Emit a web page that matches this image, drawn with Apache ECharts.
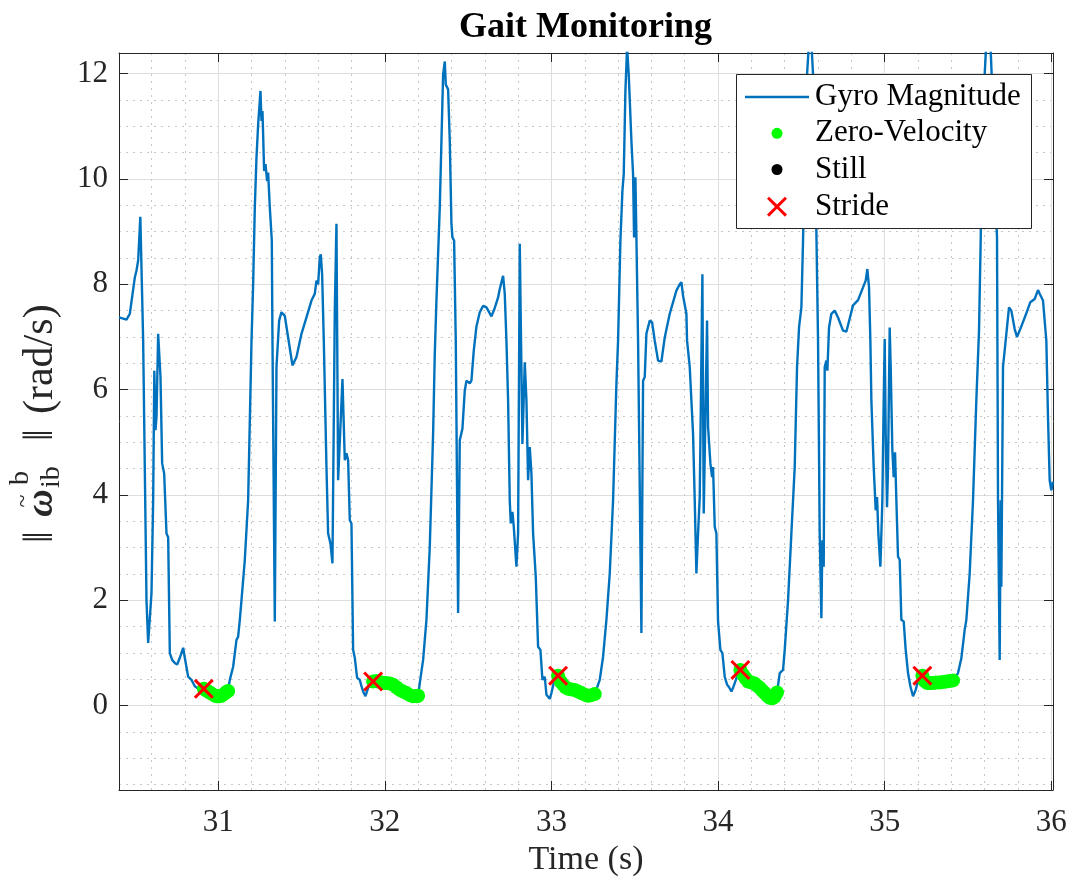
<!DOCTYPE html>
<html><head><meta charset="utf-8">
<script src="https://cdn.jsdelivr.net/npm/echarts@6/dist/echarts.min.js"></script>
<style>html,body{margin:0;padding:0;background:#fff}#c{width:1076px;height:889px}</style>
</head><body><div id="c"></div>
<script>
const gyroTime = [30.405,30.45,30.47,30.50,30.51,30.52,30.533,30.55,30.57,30.58,30.60,30.61,30.617,30.624,30.630,30.640,30.654,30.664,30.676,30.690,30.700,30.710,30.724,30.740,30.754,30.770,30.790,30.800,30.820,30.840,30.860,30.890,30.914,30.96,31.00,31.035,31.058,31.070,31.090,31.110,31.120,31.130,31.140,31.160,31.180,31.200,31.210,31.220,31.230,31.240,31.254,31.260,31.266,31.276,31.284,31.294,31.300,31.310,31.322,31.326,31.340,31.350,31.366,31.380,31.400,31.420,31.446,31.470,31.500,31.530,31.560,31.580,31.590,31.600,31.610,31.616,31.624,31.634,31.650,31.660,31.674,31.686,31.700,31.710,31.720,31.746,31.760,31.770,31.780,31.790,31.800,31.810,31.820,31.834,31.850,31.860,31.870,31.884,31.900,31.920,31.930,31.97,32.01,32.05,32.09,32.13,32.17,32.200,32.210,32.230,32.250,32.270,32.290,32.300,32.310,32.330,32.340,32.350,32.360,32.366,32.380,32.390,32.400,32.406,32.416,32.426,32.440,32.450,32.466,32.480,32.490,32.510,32.520,32.534,32.550,32.570,32.590,32.610,32.640,32.660,32.680,32.690,32.700,32.710,32.720,32.730,32.740,32.750,32.756,32.766,32.774,32.790,32.800,32.810,32.826,32.840,32.850,32.860,32.870,32.880,32.890,32.906,32.920,32.934,32.946,32.960,32.970,32.990,33.000,33.014,33.040,33.07,33.10,33.14,33.18,33.22,33.26,33.290,33.310,33.330,33.350,33.370,33.390,33.400,33.414,33.426,33.434,33.444,33.454,33.464,33.470,33.480,33.490,33.496,33.504,33.510,33.520,33.540,33.550,33.560,33.570,33.590,33.604,33.620,33.640,33.660,33.680,33.710,33.750,33.770,33.780,33.790,33.802,33.810,33.814,33.830,33.850,33.860,33.870,33.880,33.890,33.906,33.914,33.934,33.940,33.954,33.964,33.970,33.980,33.990,34.000,34.014,34.026,34.040,34.054,34.066,34.080,34.090,34.110,34.126,34.134,34.18,34.22,34.25,34.28,34.31,34.334,34.354,34.370,34.390,34.400,34.420,34.440,34.460,34.474,34.486,34.500,34.510,34.520,34.534,34.546,34.560,34.570,34.590,34.600,34.610,34.620,34.626,34.634,34.640,34.650,34.656,34.666,34.680,34.700,34.720,34.750,34.770,34.790,34.810,34.840,34.870,34.886,34.896,34.906,34.914,34.920,34.934,34.946,34.954,34.962,34.974,34.986,34.994,35.000,35.006,35.014,35.020,35.030,35.036,35.046,35.054,35.062,35.070,35.080,35.090,35.100,35.114,35.126,35.140,35.154,35.170,35.186,35.206,35.226,35.29,35.35,35.41,35.440,35.460,35.480,35.490,35.510,35.530,35.550,35.566,35.576,35.586,35.600,35.610,35.634,35.648,35.666,35.674,35.680,35.690,35.696,35.700,35.710,35.720,35.730,35.746,35.760,35.780,35.794,35.820,35.850,35.874,35.900,35.920,35.930,35.950,35.970,35.980,35.990,36.000,36.010];
const gyroValue = [7.37,7.33,7.44,8.13,8.26,8.45,9.28,6.93,2.0,1.19,2.14,3.9,6.36,5.23,5.48,7.06,6.24,4.6,4.41,3.27,3.2,1.0,0.87,0.81,0.78,0.91,1.1,0.91,0.55,0.49,0.37,0.30,0.32,0.23,0.18,0.22,0.27,0.49,0.74,1.25,1.31,1.63,2.0,2.77,3.9,6.9,8.0,9.46,10.4,11.03,11.67,11.1,11.29,10.15,10.28,9.96,10.12,9.46,8.83,6.93,1.6,6.43,7.31,7.47,7.40,6.99,6.46,6.62,7.06,7.37,7.69,7.82,8.07,8.00,8.51,8.57,8.19,6.93,4.53,3.27,3.08,2.70,7.50,9.15,4.28,6.20,4.66,4.79,4.66,3.52,3.46,1.06,0.91,0.53,0.49,0.37,0.27,0.18,0.34,0.42,0.46,0.45,0.43,0.40,0.30,0.24,0.18,0.19,0.43,0.87,1.63,3.02,5.16,6.68,7.69,9.46,10.72,11.98,12.23,11.79,11.70,10.72,9.14,8.89,8.83,6.93,1.76,5.04,5.26,5.98,6.17,6.12,6.17,6.74,7.20,7.47,7.59,7.56,7.39,7.55,7.75,7.91,7.88,8.16,7.82,6.93,5.80,3.90,3.46,3.68,3.40,2.64,3.27,8.77,4.97,6.52,5.80,4.28,4.91,4.41,3.27,2.45,1.12,1.06,0.49,0.55,0.21,0.13,0.24,0.43,0.57,0.40,0.32,0.30,0.24,0.19,0.22,0.49,0.93,1.63,2.51,3.90,6.11,6.93,8.83,9.77,10.09,11.67,12.50,11.98,12.01,10.72,10.09,8.89,10.03,8.89,6.93,1.38,6.17,6.24,7.06,7.31,7.28,6.93,6.55,6.53,6.99,7.44,7.88,8.00,8.04,7.78,7.75,7.44,6.93,6.43,5.16,3.90,2.51,3.27,3.96,8.19,3.65,7.31,5.29,4.60,4.34,4.53,3.40,3.27,1.60,1.06,1.00,0.55,0.40,0.35,0.27,0.34,0.52,0.65,0.68,0.46,0.42,0.34,0.24,0.15,0.15,0.25,0.62,0.68,1.06,2.00,3.27,4.53,6.43,7.18,7.56,8.83,10.72,11.98,12.60,12.60,11.98,9.00,6.93,3.27,1.66,3.14,2.64,6.43,6.55,6.36,7.18,7.44,7.50,7.37,7.12,7.10,7.35,7.60,7.70,7.94,8.07,8.29,7.94,6.93,5.80,4.53,3.71,3.96,3.27,2.64,3.90,5.80,6.96,5.16,3.77,4.53,7.18,6.43,4.85,4.34,4.81,3.90,2.83,2.77,1.63,1.60,1.06,0.62,0.37,0.18,0.30,0.55,0.57,0.43,0.45,0.48,0.62,0.90,1.44,1.63,2.51,3.90,5.80,7.12,8.83,10.72,11.98,12.60,12.60,11.50,9.50,8.90,3.90,0.87,3.90,2.26,6.43,6.46,7.06,7.56,7.50,7.15,7.00,7.20,7.45,7.66,7.72,7.89,7.82,7.69,6.93,5.48,4.28,4.09,4.25];

const zvTime = [30.914,30.93,30.945,30.96,30.975,30.99,31.005,31.02,31.035,31.05,31.06,
  31.93,31.95,31.97,31.99,32.01,32.03,32.05,32.07,32.09,32.11,32.13,32.15,32.17,32.19,32.20,
  33.04,33.055,33.07,33.085,33.10,33.12,33.14,33.16,33.18,33.20,33.22,33.24,33.26,
  34.134,34.15,34.165,34.18,34.20,34.22,34.235,34.25,34.265,34.28,34.295,34.31,34.325,34.34,34.354,
  35.226,35.24,35.255,35.27,35.29,35.31,35.33,35.35,35.37,35.39,35.41];
const zvValue = [0.32,0.29,0.26,0.23,0.20,0.18,0.18,0.19,0.22,0.26,0.28,
  0.46,0.47,0.45,0.43,0.43,0.42,0.40,0.35,0.30,0.27,0.24,0.20,0.18,0.18,0.19,
  0.57,0.46,0.40,0.35,0.32,0.31,0.30,0.27,0.24,0.21,0.19,0.20,0.22,
  0.68,0.59,0.52,0.46,0.44,0.42,0.38,0.34,0.29,0.24,0.19,0.15,0.14,0.17,0.25,
  0.57,0.47,0.43,0.43,0.43,0.44,0.44,0.45,0.46,0.47,0.48];
const stillTime = [];
const stillValue = [];
const strideTime = [30.914,31.93,33.04,34.134,35.226];
const strideValue = [0.32,0.46,0.57,0.68,0.57];

const xMajorTicks = [31,32,33,34,35,36];
const xMinorTicks = [30.6,30.8,31.2,31.4,31.6,31.8,32.2,32.4,32.6,32.8,33.2,33.4,33.6,33.8,34.2,34.4,34.6,34.8,35.2,35.4,35.6,35.8];
const yMajorTicks = [0,2,4,6,8,10,12];
const yMinorTicks = [-1.5,-1,-0.5,0.5,1,1.5,2.5,3,3.5,4.5,5,5.5,6.5,7,7.5,8.5,9,9.5,10.5,11,11.5];

const seriesNames = ['Gyro Magnitude', 'Zero-Velocity', 'Still', 'Stride'];
const seriesColors = ['#0072BD', '#00ff00', '#000000', '#ff0000'];

const FONT = "'Liberation Serif','Times New Roman',serif";
const AX = '#262626';
const X_MIN = 30.405, X_MAX = 36.01, Y_MIN = -1.6, Y_MAX = 12.39;
const X_SYMBOL = 'path://M0,2.1L2.1,0L10,7.9L17.9,0L20,2.1L12.1,10L20,17.9L17.9,20L10,12.1L2.1,20L0,17.9L7.9,10Z';

const pairs = (a, b) => a.map((t, i) => [t, b[i]]);
const chart = echarts.init(document.getElementById('c'), null, {renderer: 'canvas'});

const frameLine = {show: true, onZero: false, lineStyle: {color: AX, width: 1}};
const majorTick = (vals) => ({show: true, inside: true, length: 9, customValues: vals, lineStyle: {color: AX, width: 1}});
const noTick = (vals) => ({show: false, customValues: vals});

// legend drawn as a boxed key (icons + real text)
const LG = {x: 736.5, y: 74.5, w: 295, h: 154, iconX: 777, textX: 815, rows: [97, 133.3, 169.5, 206.7]};
const legendText = (i) => ({type: 'text', z: 11, x: LG.textX, y: LG.rows[i],
  style: {text: seriesNames[i], fontSize: 31, fontFamily: FONT, fill: '#000', align: 'left', verticalAlign: 'middle'}});
const legendGraphics = [
  {type: 'rect', z: 10, shape: {x: LG.x, y: LG.y, width: LG.w, height: LG.h},
    style: {fill: '#fff', stroke: AX, lineWidth: 1}},
  {type: 'line', z: 11, shape: {x1: LG.iconX - 32, y1: LG.rows[0], x2: LG.iconX + 32, y2: LG.rows[0]},
    style: {stroke: seriesColors[0], lineWidth: 2.4}},
  {type: 'circle', z: 11, shape: {cx: LG.iconX, cy: LG.rows[1], r: 5.5}, style: {fill: seriesColors[1]}},
  {type: 'circle', z: 11, shape: {cx: LG.iconX, cy: LG.rows[2], r: 5.5}, style: {fill: seriesColors[2]}},
  {type: 'polygon', z: 11, shape: {points: [[-10,-7.9],[-7.9,-10],[0,-2.1],[7.9,-10],[10,-7.9],[2.1,0],[10,7.9],[7.9,10],[0,2.1],[-7.9,10],[-10,7.9],[-2.1,0]]},
    x: LG.iconX, y: LG.rows[3], style: {fill: seriesColors[3]}},
  legendText(0), legendText(1), legendText(2), legendText(3)
];

const yLabel = {type: 'group', x: 54, y: 545, rotation: Math.PI / 2, children: [
  {type: 'text', x: 8, y: -12.8, style: {text: '\u2016', fontSize: 42, fontFamily: FONT, fill: AX, align: 'center', verticalAlign: 'middle'}},
  {type: 'text', x: 42, y: -11.6, style: {text: '\u03c9', fontSize: 38, fontFamily: FONT, fontStyle: 'italic', fontWeight: 'bold', fill: AX, align: 'center', verticalAlign: 'middle'}},
  {type: 'text', x: 44, y: -30, style: {text: '~', fontSize: 24, fontFamily: FONT, fill: AX, align: 'center', verticalAlign: 'middle'}},
  {type: 'text', x: 60, y: -33, style: {text: 'b', fontSize: 28, fontFamily: FONT, fill: AX, align: 'left', verticalAlign: 'middle'}},
  {type: 'text', x: 57, y: -2.5, style: {text: 'ib', fontSize: 28, fontFamily: FONT, fill: AX, align: 'left', verticalAlign: 'middle'}},
  {type: 'text', x: 110, y: -12.8, style: {text: '\u2016', fontSize: 42, fontFamily: FONT, fill: AX, align: 'center', verticalAlign: 'middle'}},
  {type: 'text', x: 131, y: -12.8, style: {text: '(rad/s)', fontSize: 42, fontFamily: FONT, fill: AX, align: 'left', verticalAlign: 'middle'}}
]};

chart.setOption({
  animation: false,
  backgroundColor: '#fff',
  title: {text: 'Gait Monitoring', left: 459, top: 10, padding: 0,
    textStyle: {fontFamily: FONT, fontSize: 36, fontWeight: 'bold', color: '#000'}},
  grid: {left: 119, top: 53, width: 934, height: 737, containLabel: false, outerBoundsMode: 'none'},
  xAxis: [
    {type: 'value', min: X_MIN, max: X_MAX, position: 'bottom',
      axisLine: {show: false, onZero: false}, axisTick: noTick(xMinorTicks),
      axisLabel: {show: false, customValues: xMinorTicks},
      splitLine: {show: true, lineStyle: {color: '#c8c8c8', width: 1, type: [2, 5]}}},
    {type: 'value', min: X_MIN, max: X_MAX, position: 'bottom',
      axisLine: frameLine, axisTick: majorTick(xMajorTicks),
      axisLabel: {show: true, customValues: xMajorTicks, margin: 17, color: AX, fontFamily: FONT, fontSize: 31},
      splitLine: {show: true, lineStyle: {color: '#dedede', width: 1}},
      name: 'Time (s)', nameLocation: 'middle', nameGap: 50,
      nameTextStyle: {fontFamily: FONT, fontSize: 34, color: AX}},
    {type: 'value', min: X_MIN, max: X_MAX, position: 'top',
      axisLine: frameLine, axisTick: majorTick(xMajorTicks),
      axisLabel: {show: false, customValues: xMajorTicks}, splitLine: {show: false}}
  ],
  yAxis: [
    {type: 'value', min: Y_MIN, max: Y_MAX, position: 'left',
      axisLine: {show: false, onZero: false}, axisTick: noTick(yMinorTicks),
      axisLabel: {show: false, customValues: yMinorTicks},
      splitLine: {show: true, lineStyle: {color: '#c8c8c8', width: 1, type: [2, 5]}}},
    {type: 'value', min: Y_MIN, max: Y_MAX, position: 'left',
      axisLine: frameLine, axisTick: majorTick(yMajorTicks),
      axisLabel: {show: true, customValues: yMajorTicks, margin: 11, color: AX, fontFamily: FONT, fontSize: 31},
      splitLine: {show: true, lineStyle: {color: '#dedede', width: 1}}},
    {type: 'value', min: Y_MIN, max: Y_MAX, position: 'right',
      axisLine: frameLine, axisTick: majorTick(yMajorTicks),
      axisLabel: {show: false, customValues: yMajorTicks}, splitLine: {show: false}}
  ],
  graphic: legendGraphics.concat([yLabel]),
  series: [
    {name: seriesNames[0], type: 'line', xAxisIndex: 1, yAxisIndex: 1, data: pairs(gyroTime, gyroValue),
      showSymbol: false, symbol: 'none', clip: true, z: 2,
      lineStyle: {color: seriesColors[0], width: 2.4}, itemStyle: {color: seriesColors[0]}},
    {name: seriesNames[1], type: 'scatter', xAxisIndex: 1, yAxisIndex: 1, data: pairs(zvTime, zvValue), z: 3,
      symbol: 'circle', symbolSize: 14, itemStyle: {color: seriesColors[1], opacity: 1}},
    {name: seriesNames[2], type: 'scatter', xAxisIndex: 1, yAxisIndex: 1, data: pairs(stillTime, stillValue), z: 4,
      symbol: 'circle', symbolSize: 11, itemStyle: {color: seriesColors[2], opacity: 1}},
    {name: seriesNames[3], type: 'scatter', xAxisIndex: 1, yAxisIndex: 1, data: pairs(strideTime, strideValue), z: 5,
      symbol: X_SYMBOL, symbolSize: 20, itemStyle: {color: seriesColors[3], opacity: 1}}
  ]
});
</script>
</body></html>
